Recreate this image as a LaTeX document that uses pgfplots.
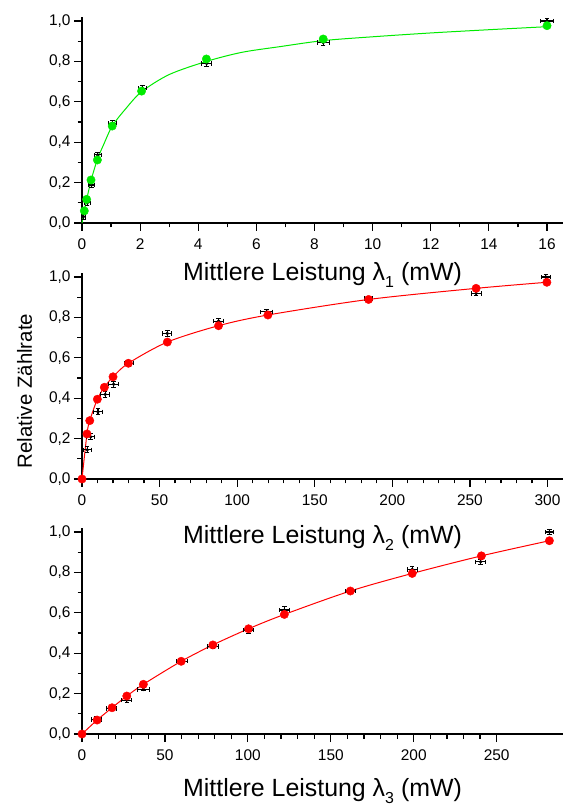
\documentclass[border=0pt]{standalone}
\usepackage{fontspec}
\setmainfont{Liberation Sans}
\usepackage{pgfplots}
\usepackage{pgfplotstable}
\pgfplotsset{compat=1.18}

\definecolor{fitgreen}{RGB}{0,235,0}
\definecolor{fitred}{RGB}{255,0,0}

% measured data (black, with error bars)
\pgfplotstableread{
x     y      ex    ey
0.05  0.031  0.08  0.012
0.18  0.100  0.10  0.012
0.33  0.188  0.10  0.012
0.54  0.337  0.12  0.012
1.05  0.494  0.14  0.012
2.08  0.667  0.15  0.015
4.29  0.790  0.17  0.015
8.30  0.893  0.21  0.015
16.0  1.000  0.21  0.015
}\dataA
\pgfplotstableread{
x     y
0.08  0.060
0.16  0.117
0.31  0.213
0.53  0.312
1.04  0.480
2.05  0.653
4.28  0.812
8.30  0.911
16.0  0.977
}\modelA
\pgfplotstableread{
x     y
0     0
0.08  0.060
0.16  0.115
0.31  0.210
0.53  0.315
0.75  0.390
1.04  0.480
1.50  0.565
2.05  0.650
3.00  0.735
4.28  0.800
5.50  0.845
6.80  0.873
8.30  0.903
10.0  0.922
12.0  0.941
14.0  0.957
16.0  0.972
}\fitA

\pgfplotstableread{
x      y      ex   ey
3.4    0.144  2.5  0.015
5.6    0.209  2.5  0.015
10.3   0.333  2.8  0.015
15.0   0.419  2.8  0.015
20.4   0.469  3.0  0.015
30.3   0.573  3.2  0.015
55.0   0.721  3.0  0.015
88.0   0.782  3.5  0.012
119.0  0.828  3.8  0.012
184.7  0.894  2.8  0.012
254.0  0.919  3.2  0.012
299.0  1.000  2.7  0.012
}\dataB
\pgfplotstableread{
x      y
0      0
3.2    0.223
5.0    0.289
9.9    0.395
14.4   0.454
20.0   0.506
29.9   0.573
55.0   0.678
88.0   0.759
119.8  0.812
184.7  0.889
254.0  0.944
299.6  0.974
}\modelB

\pgfplotstableread{
x      y      ex   ey
8.5    0.072  3.0  0.015
17.9   0.127  3.0  0.012
27.0   0.168  3.0  0.012
37.0   0.221  3.5  0.008
60.4   0.360  3.5  0.008
78.9   0.434  3.5  0.012
100.4  0.515  3.0  0.015
122.0  0.614  3.0  0.015
161.8  0.708  3.0  0.012
199.1  0.815  3.0  0.012
240.3  0.853  3.0  0.012
281.8  1.000  2.5  0.012
}\dataC
\pgfplotstableread{
x      y
0      0
9.1    0.069
18.1   0.130
27.0   0.188
37.0   0.246
59.8   0.360
78.9   0.441
100.4  0.521
122.0  0.592
161.8  0.708
199.1  0.795
240.8  0.882
281.8  0.957
}\modelC

\pgfplotsset{
  panel/.style={
    scale only axis, width=481bp, height=206bp,
    axis lines=left, axis line style={-, line width=1.3bp},
    xmin=0, ymin=0, ymax=1.02,
    ytick={0,0.2,0.4,0.6,0.8,1.0}, minor y tick num=1,
    tick align=outside, major tick length=8bp, minor tick length=4.5bp,
    every tick/.style={black, line width=1.2bp},
    /pgf/number format/assume math mode=true,
    tick label style={font=\fontsize{15.5}{15.5}\selectfont},
    yticklabel style={/pgf/number format/.cd, fixed, fixed zerofill,
      precision=1, use comma},
    xticklabel style={/pgf/number format/1000 sep={}, yshift=-4bp},
    xlabel style={font=\fontsize{25}{25}\selectfont,
      at={(axis description cs:0.5,0)}, anchor=base},
    clip=false,
  },
  meas/.style={only marks, mark=*, mark size=1.5bp, black,
    error bars/.cd, x dir=both, x explicit, y dir=both, y explicit,
    error bar style={line width=1.1bp, black},
    error mark options={rotate=90, line width=1bp, mark size=2.2bp, black}},
  model/.style={only marks, mark=*, mark size=4.2bp, draw=#1, fill=#1},
  fit/.style={#1, line width=1bp, smooth, no marks},
}

\newcommand{\lam}[1]{Mittlere Leistung λ\raisebox{-7bp}{\fontsize{16}{16}\selectfont #1} (mW)}

\begin{document}
\begin{tikzpicture}
\path[use as bounding box] (0,0) rectangle (566bp,806bp);

\begin{axis}[panel, at={(82bp,583bp)}, anchor=south west,
  xmax=16.55, xtick={0,2,...,16}, minor x tick num=1,
  xlabel={\lam{1}}, xlabel style={yshift=-58bp}]
  \addplot[fit=fitgreen] table[x=x, y=y] {\fitA};
  \addplot[meas] table[x=x, y=y, x error=ex, y error=ey] {\dataA};
  \addplot[model=fitgreen] table[x=x, y=y] {\modelA};
\end{axis}

\begin{axis}[panel, at={(82bp,327bp)}, anchor=south west,
  xmax=310, xtick={0,50,...,300}, minor x tick num=4,
  xlabel={\lam{2}}, xlabel style={yshift=-65bp},
  ylabel={Relative Zählrate},
  ylabel style={font=\fontsize{20.5}{20.5}\selectfont,
    at={(axis description cs:-0.104,0.427)}, anchor=base}]
  \addplot[fit=fitred] table[x=x, y=y] {\modelB};
  \addplot[meas] table[x=x, y=y, x error=ex, y error=ey] {\dataB};
  \addplot[model=fitred] table[x=x, y=y] {\modelB};
\end{axis}

\begin{axis}[panel, at={(82bp,72bp)}, anchor=south west,
  xmax=290, xtick={0,50,...,250}, minor x tick num=4,
  xlabel={\lam{3}}, xlabel style={yshift=-62bp}]
  \addplot[fit=fitred] table[x=x, y=y] {\modelC};
  \addplot[meas] table[x=x, y=y, x error=ex, y error=ey] {\dataC};
  \addplot[model=fitred] table[x=x, y=y] {\modelC};
\end{axis}
\end{tikzpicture}
\end{document}
